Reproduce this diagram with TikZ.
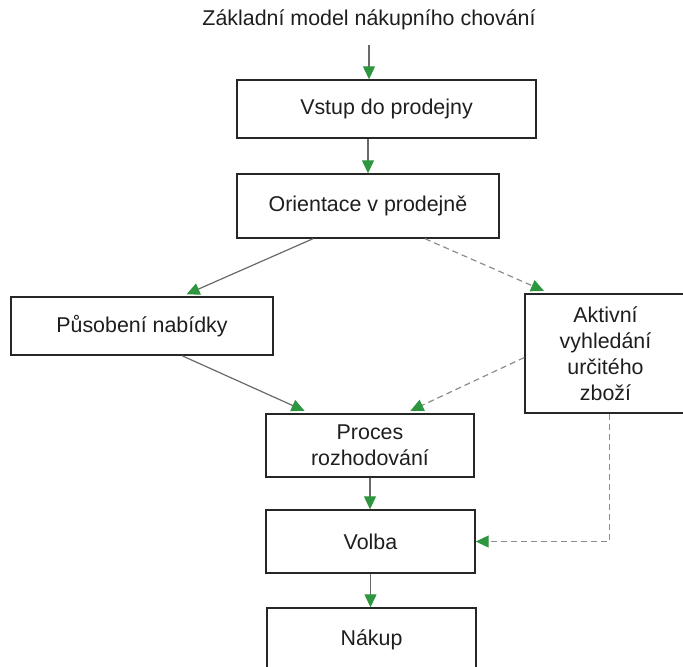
\documentclass[tikz,border=0pt]{standalone}
\usepackage{fontspec}
\setmainfont{Liberation Sans}
\usetikzlibrary{arrows.meta}
\definecolor{tipgreen}{RGB}{46,150,62}
\definecolor{linegray}{RGB}{105,105,105}
\definecolor{textgray}{RGB}{30,30,30}
\begin{document}
\begin{tikzpicture}[x=0.5pt,y=-0.5pt,font=\fontsize{10.7}{13}\selectfont,text=textgray,
  box/.style={draw=black!85,line width=0.7pt,inner sep=0pt,align=center},
  arr/.style={draw=linegray,line width=0.6pt,
    -{Triangle[length=6.5pt,width=6pt,fill=tipgreen,color=tipgreen]}},
  dasharr/.style={arr,draw=black!45,dash pattern=on 3pt off 2pt}]
\useasboundingbox (0,0) rectangle (683,666);
\node (title) at (369,20) {Základní model nákupního chování};
\node[box,minimum width=149.5pt,minimum height=29pt] (vstup) at (386.5,109) {Vstup do prodejny};
\node[box,minimum width=131pt,minimum height=32pt] (orient) at (368,206) {Orientace v prodejně};
\node[box,minimum width=131pt,minimum height=29pt] (pusob) at (142,326) {Působení nabídky};
\node[box,minimum width=80.5pt,minimum height=59.5pt] (aktiv) at (605.5,353.5) {Aktivní\\vyhledání\\určitého\\zboží};
\node[box,minimum width=104pt,minimum height=31.5pt] (proces) at (370,445.5) {Proces\\rozhodování};
\node[box,minimum width=104.5pt,minimum height=31.5pt] (volba) at (370.5,541.5) {Volba};
\node[box,minimum width=104.5pt,minimum height=32pt] (nakup) at (371.5,640) {Nákup};
% hlavni tok
\draw[arr] ([yshift=-4pt]title.south) -- (title.south |- vstup.north);
\draw[arr] (orient.north |- vstup.south) -- (orient.north);
\draw[arr,shorten >=2.5pt] ([xshift=-27.5pt]orient.south) -- ([xshift=20pt]pusob.north);
\draw[dasharr,shorten >=3pt] ([xshift=28.5pt]orient.south) -- ([xshift=-28pt]aktiv.north);
\draw[arr,shorten >=3pt] ([xshift=20pt]pusob.south) -- ([xshift=-30pt]proces.north);
\draw[dasharr,shorten >=3pt] ([yshift=-2pt]aktiv.west) -- ([xshift=17.5pt]proces.north);
\draw[arr] (proces.south) -- (proces.south |- volba.north);
\draw[arr] (volba.south) -- (volba.south |- nakup.north);
\draw[dasharr] ([xshift=2pt]aktiv.south) |- (volba.east);
\end{tikzpicture}
\end{document}
